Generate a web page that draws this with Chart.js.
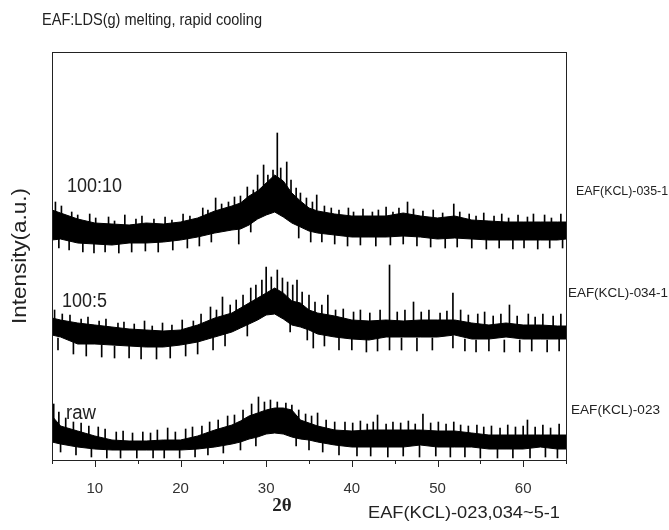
<!DOCTYPE html>
<html lang="en">
<head>
    <meta charset="UTF-8">
    <title>EAF:LDS(g) melting, rapid cooling</title>
    <script src="https://cdn.jsdelivr.net/npm/chart.js"></script>
    <style>
        html, body { margin: 0; padding: 0; background: #fff; }
        #wrap { position: relative; width: 669px; height: 530px; }
    </style>
</head>
<body>
<div id="wrap"><canvas id="xrd"></canvas></div>
<script>
    const twoTheta = [5,6,8,10,12,14,16,18,20,22,24,26,27,28,29,30,31,32,33,34,35,36,38,40,42,44,46,48,50,52,54,56,58,60,62,64,65];

    // stacked intensity (a.u.), upper / lower edge of the solid core of each trace
    const upper100_10 = [250,247,241,237,236,235,237,236,238,242,249,254,257,264,269,277,285,279,267,259,252,249,246,244,244,244,247,244,242,244,240,239,238,238,238,238,238];
    const lower100_10 = [220,221,217,216,215,217,217,218,220,223,227,230,231,235,241,245,248,243,237,233,229,227,225,223,223,223,224,223,221,222,221,220,220,220,220,220,221];
    const upper100_5  = [142,140,137,135,133,131,130,129,130,135,142,147,152,157,162,167,172,167,159,157,150,147,144,140,139,140,139,140,140,140,137,135,137,135,135,134,134];
    const lower100_5  = [125,123,116,116,115,114,113,113,115,118,123,128,132,136,140,145,146,141,135,133,130,126,123,121,120,123,123,123,123,125,121,121,123,121,121,121,121];
    const upperRaw    = [44,34,29,24,20,19,19,20,20,24,30,35,39,44,47,50,52,52,50,40,37,34,30,29,30,30,30,30,29,29,27,25,25,25,25,25,25];
    const lowerRaw    = [18,16,13,11,10,10,10,10,10,11,13,16,18,21,23,26,27,26,23,21,20,18,15,13,13,13,13,15,13,13,13,11,11,11,13,11,11];

    // noise spikes around the core: [2theta, from, to]
    const spikes100_10 = [
        [5.4,245,258],[6.1,243,254],[7.3,238,248],[8.0,237,245],[9.4,233,246],[10.1,233,242],[11.6,232,243],[12.3,232,239],[13.5,231,245],
        [14.8,232,241],[15.5,232,244],[16.9,232,241],[18.2,232,243],[19.0,233,240],[20.3,234,246],[21.1,236,244],[22.6,238,252],[23.2,240,250],
        [24.1,244,262],[24.8,246,256],[25.6,248,258],[26.3,250,263],[27.0,252,264],[27.8,255,273],[28.5,258,270],[29.0,260,285],[29.7,262,295],
        [30.2,268,285],[30.8,272,290],[31.3,275,327],[31.7,272,292],[32.4,270,298],[32.9,265,280],[33.5,258,272],[34.0,255,267],[34.7,252,262],
        [35.4,250,258],[35.9,248,265],[36.8,245,254],[37.6,244,252],[38.5,242,250],[39.6,240,252],[40.2,240,248],[41.3,240,251],[42.4,240,248],
        [43.1,240,250],[44.0,240,253],[44.8,240,248],[45.5,242,252],[46.5,243,258],[47.2,242,251],[48.3,240,249],[49.5,239,250],[50.6,238,247],
        [51.9,240,256],[52.6,238,248],[53.7,236,246],[54.5,236,244],[55.4,235,247],[56.6,235,244],[57.5,234,246],[58.3,234,242],[59.4,234,245],
        [60.5,234,243],[61.2,234,246],[62.5,234,245],[63.3,234,242],[64.4,234,246],
        [5.8,212,224],[7.0,210,221],[8.6,208,220],[9.9,207,219],[11.2,208,220],[12.8,207,219],[14.3,208,220],[15.9,209,220],[17.4,208,220],
        [19.1,210,222],[20.8,212,224],[22.2,214,226],[23.6,218,230],[26.8,216,234],[28.2,228,238],[33.8,222,238],[35.2,218,230],[36.5,218,230],
        [38.0,216,228],[39.5,214,226],[41.0,215,227],[42.8,214,226],[44.5,215,227],[46.0,216,228],[47.6,214,226],[49.2,213,225],[50.9,212,224],
        [52.3,213,225],[54.0,212,224],[55.7,211,223],[57.2,212,224],[58.8,211,223],[60.1,212,224],[61.7,211,223],[63.1,212,224],[64.6,212,224]];
    const spikes100_5 = [
        [5.3,138,150],[6.2,136,146],[7.1,134,145],[8.4,132,141],[9.2,131,143],[10.5,130,139],[11.3,129,141],[12.7,128,137],[13.4,127,138],
        [14.6,126,136],[15.8,126,139],[16.7,125,134],[17.9,125,137],[19.0,125,135],[20.2,126,140],[21.5,128,139],[22.4,130,146],[23.5,134,153],
        [24.2,137,150],[24.9,139,163],[25.8,141,155],[26.5,143,160],[27.3,147,165],[28.2,150,172],[28.8,155,175],[29.5,158,180],[30.0,160,193],
        [30.6,163,183],[31.3,165,190],[31.9,162,182],[32.5,160,178],[33.1,156,175],[33.6,153,180],[34.2,150,168],[35.0,146,165],[35.7,144,158],
        [36.5,142,155],[37.2,140,165],[38.1,139,150],[39.0,137,151],[40.2,136,148],[41.0,136,150],[42.1,136,147],[43.3,136,150],[44.4,125,195],
        [45.3,136,148],[46.2,136,150],[47.2,136,158],[48.1,136,148],[49.0,136,150],[50.3,136,147],[51.1,136,149],[51.8,125,167],[52.7,135,150],
        [53.6,133,145],[54.7,132,146],[55.5,132,148],[56.5,131,144],[57.4,131,146],[58.4,131,155],[59.3,131,144],[60.6,131,146],[61.4,131,143],
        [62.3,131,146],[63.5,131,144],[64.4,131,146],
        [5.7,110,122],[7.5,106,118],[9.0,104,116],[10.8,103,115],[12.3,102,114],[14.0,102,114],[15.4,101,114],[17.2,101,114],[18.8,102,115],
        [20.6,104,117],[22.0,106,119],[23.8,110,123],[25.2,114,127],[27.8,124,136],[32.8,128,140],[34.8,120,132],[35.5,112,128],[36.8,114,126],
        [38.5,110,124],[40.0,110,122],[41.7,108,121],[43.0,109,122],[44.4,110,125],[45.8,110,122],[47.6,109,122],[49.4,110,122],[51.8,112,124],
        [53.2,109,121],[54.5,108,120],[56.0,109,121],[57.8,108,120],[59.6,108,120],[61.0,109,121],[62.8,108,120],[64.2,109,121]];
    const spikesRaw = [
        [5.2,38,56],[5.8,34,48],[6.6,30,42],[7.5,28,38],[8.4,27,37],[9.3,25,34],[10.4,23,33],[11.2,21,31],[12.5,19,28],[13.3,18,29],
        [14.4,18,27],[15.6,18,28],[16.5,18,27],[17.3,18,30],[18.5,18,32],[19.4,18,28],[20.6,20,31],[21.4,21,33],[22.5,23,34],[23.4,25,38],
        [24.4,28,40],[25.5,31,44],[26.3,33,45],[27.3,36,50],[28.3,40,56],[29.1,44,63],[29.8,46,58],[30.5,47,60],[31.3,48,58],[32.3,48,57],
        [33.0,46,55],[33.8,40,50],[34.6,36,46],[35.3,34,44],[36.0,32,47],[37.0,30,40],[38.0,28,38],[39.2,27,38],[40.1,27,37],[41.0,27,39],
        [41.8,27,36],[42.5,27,38],[43.0,27,45],[44.0,27,36],[44.8,27,38],[45.7,27,37],[46.6,27,39],[47.4,27,36],[48.3,27,46],[49.2,27,37],
        [50.1,27,38],[51.0,27,36],[51.9,26,38],[52.7,26,35],[53.6,25,34],[54.6,24,35],[55.4,24,33],[56.3,23,34],[57.3,23,32],[58.2,23,35],
        [59.1,23,33],[60.0,23,34],[60.5,23,40],[61.4,23,33],[62.3,23,35],[63.2,23,32],[64.2,23,36],
        [6.0,8,20],[7.8,5,16],[9.6,3,14],[11.4,2,13],[13.0,2,13],[14.9,2,12],[16.8,2,13],[18.1,2,13],[19.9,2,13],[21.7,3,14],
        [23.2,5,15],[25.0,7,18],[27.0,10,20],[28.8,14,24],[33.5,14,25],[35.0,10,21],[36.6,8,20],[38.5,5,16],[40.6,4,15],[42.2,4,15],
        [44.2,3,15],[46.0,4,15],[47.9,3,15],[49.8,4,15],[51.5,3,14],[53.2,3,14],[55.0,2,13],[57.0,2,13],[58.8,2,13],[60.8,2,13],
        [62.6,3,14],[64.0,2,13]];

    const xTicks = [10,20,30,40,50,60];
    const xMinorTicks = [5,15,25,35,45,55,65];

    function band(up, lo) {
        return [
            { type: 'line', data: twoTheta.map((x, i) => ({ x, y: up[i] })), fill: '+1',
              backgroundColor: '#000', borderColor: '#000', borderWidth: 1, pointRadius: 0, tension: 0 },
            { type: 'line', data: twoTheta.map((x, i) => ({ x, y: lo[i] })), fill: false,
              borderColor: '#000', borderWidth: 1, pointRadius: 0, tension: 0 }
        ];
    }
    function spikeSet(list) {
        return { type: 'bar', data: list.map(s => ({ x: s[0], y: [s[1], s[2]] })),
                 backgroundColor: '#000', barThickness: 1, grouped: false };
    }

    function fitText(ctx, txt, x, y, w, font) {
        ctx.font = font;
        const m = ctx.measureText(txt).width;
        ctx.save();
        ctx.translate(x, y);
        ctx.scale(w / m, 1);
        ctx.fillText(txt, 0, 0);
        ctx.restore();
    }

    const decor = {
        id: 'decor',
        afterDraw(chart) {
            const ctx = chart.ctx, a = chart.chartArea, xs = chart.scales.x;
            ctx.save();
            ctx.strokeStyle = '#222';
            ctx.lineWidth = 1;
            ctx.strokeRect(a.left + 0.5, a.top + 0.5, a.right - a.left, a.bottom - a.top);
            const tick = (v, len) => {
                const px = Math.round(xs.getPixelForValue(v)) + 0.5;
                ctx.beginPath();
                ctx.moveTo(px, a.bottom);
                ctx.lineTo(px, a.bottom + len);
                ctx.stroke();
            };
            xTicks.forEach(v => tick(v, 7));
            xMinorTicks.forEach(v => tick(v, 4));

            ctx.fillStyle = '#222';
            ctx.textBaseline = 'middle';
            ctx.textAlign = 'left';
            fitText(ctx, 'EAF:LDS(g) melting, rapid cooling', 42, 20, 220, '17px "Liberation Sans", Arial');
            fitText(ctx, '100:10', 67, 186, 55, '21px "Liberation Sans", Arial');
            fitText(ctx, '100:5', 62, 301, 45, '20px "Liberation Sans", Arial');
            fitText(ctx, 'raw', 66, 413, 30, '20px "Liberation Sans", Arial');
            fitText(ctx, 'EAF(KCL)-035-1', 576, 192, 92, '12px "Liberation Sans", Arial');
            fitText(ctx, 'EAF(KCL)-034-1', 568, 294, 100, '12px "Liberation Sans", Arial');
            fitText(ctx, 'EAF(KCL)-023', 571, 411, 89, '12px "Liberation Sans", Arial');
            fitText(ctx, 'EAF(KCL)-023,034~5-1', 368, 514, 192, '16px "Liberation Sans", Arial');
            ctx.font = 'bold 19px "Liberation Serif", serif';
            ctx.textAlign = 'center';
            ctx.fillText('2θ', 282, 506);
            ctx.translate(20, 256);
            ctx.rotate(-Math.PI / 2);
            ctx.textAlign = 'left';
            fitText(ctx, 'Intensity(a.u.)', -68, 0, 136, '20px "Liberation Sans", Arial');
            ctx.restore();
        }
    };

    new Chart(document.getElementById('xrd'), {
        type: 'line',
        data: {
            datasets: [
                ...band(upper100_10, lower100_10), spikeSet(spikes100_10),
                ...band(upper100_5, lower100_5), spikeSet(spikes100_5),
                ...band(upperRaw, lowerRaw), spikeSet(spikesRaw)
            ]
        },
        options: {
            responsive: true,
            maintainAspectRatio: false,
            animation: false,
            layout: { padding: { top: 52, right: 103, left: 0, bottom: 0 } },
            plugins: { legend: { display: false }, tooltip: { enabled: false } },
            scales: {
                x: {
                    type: 'linear', min: 5, max: 65, offset: false,
                    afterBuildTicks: s => { s.ticks = xTicks.map(v => ({ value: v })); },
                    afterFit: s => { s.height = 70; },
                    grid: { display: false },
                    border: { display: false },
                    ticks: { color: '#333', padding: 12, font: { family: '"Liberation Sans", Arial', size: 15 }, maxRotation: 0 }
                },
                y: {
                    min: 0, max: 408,
                    afterFit: s => { s.width = 52; },
                    grid: { display: false },
                    border: { display: false },
                    ticks: { display: false }
                }
            }
        },
        plugins: [decor]
    });
</script>
</body>
</html>
